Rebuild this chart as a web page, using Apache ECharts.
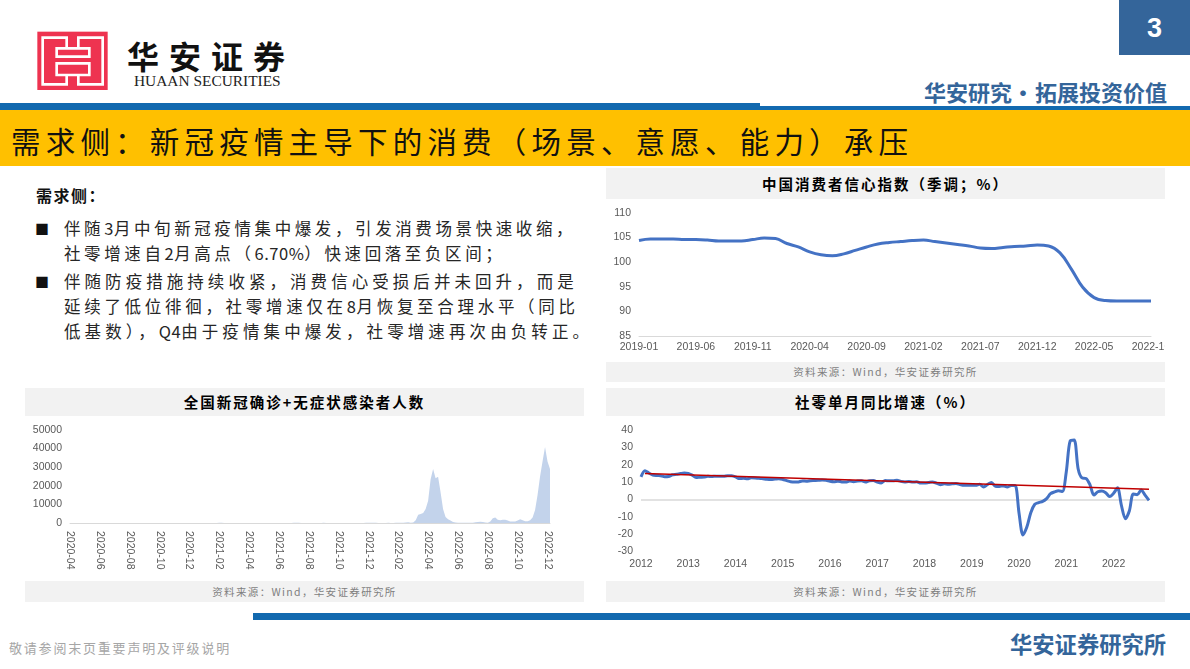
<!DOCTYPE html>
<html lang="zh"><head><meta charset="utf-8">
<script src="https://cdn.jsdelivr.net/npm/echarts@6/dist/echarts.min.js"></script>
<style>
html,body{margin:0;padding:0;background:#fff;width:1190px;height:669px;overflow:hidden;font-family:"Noto Sans CJK SC",sans-serif}
.a{position:absolute;white-space:nowrap}
.r{position:absolute}
.p{position:absolute;background:#F2F2F2;text-align:center}
.h{font-weight:700;color:#000;font-size:14.5px;letter-spacing:2px}
.s{color:#7F7F7F;font-size:10.5px;letter-spacing:1.35px}
.t{font-size:16.5px;letter-spacing:3.95px;color:#262626;line-height:24px;left:64px}
.l{letter-spacing:.5px}
</style></head><body>
<svg class="r" style="left:30px;top:25px" width="90" height="70" viewBox="0 0 270 210">
<rect x="22" y="20" width="211" height="175" fill="#EE3350"/>
<path d="M110 38H38V178H110V150H80V115H178V150H145V178H218V38H145V70H178V95H80V70H110ZM110 70H145M110 150H145" fill="none" stroke="#fff" stroke-width="8"/>
</svg>
<div class="a" style="left:127px;top:33px;font-size:32px;letter-spacing:10px;line-height:44px;font-weight:700;color:#111">华安证券</div>
<div class="a" style="left:134px;top:73px;font-family:'Liberation Serif';font-size:15.4px;line-height:16px;color:#222">HUAAN SECURITIES</div>
<div class="r" style="left:1119px;top:0;width:71px;height:55px;background:#34659A"></div>
<div class="a" style="left:1119px;width:71px;text-align:center;top:9px;font:700 27px/38px 'Liberation Sans';color:#fff">3</div>
<div class="a" style="left:924px;top:76px;font-size:22px;line-height:30px;font-weight:700;color:#34659A;word-spacing:-4px">华安研究• 拓展投资价值</div>
<div class="r" style="left:0;top:103px;width:760px;height:7px;background:#1269AF"></div>
<div class="r" style="left:760px;top:106px;width:430px;height:4px;background:#1269AF"></div>
<div class="r" style="left:0;top:110px;width:1190px;height:56px;background:#FFC000"></div>
<div class="a" style="left:11px;top:118px;font-size:29.5px;letter-spacing:5.2px;line-height:44px;color:#111">需求侧&#xFF1A;新冠疫情主导下的消费&#xFF08;场景、意愿、能力&#xFF09;承压</div>

<div class="a" style="left:36px;top:183px;font-size:16px;letter-spacing:1.5px;line-height:24px;font-weight:700;color:#111">需求侧&#xFF1A;</div>
<div class="a" style="left:35px;top:216px;font-size:14px;line-height:24px;color:#111">■</div>
<div class="a t" style="top:216px;letter-spacing:3.6px">伴随<span class="l">3</span>月中旬新冠疫情集中爆发&#xFF0C;引发消费场景快速收缩&#xFF0C;</div>
<div class="a t" style="top:241px;letter-spacing:3.6px">社零增速自<span class="l">2</span>月高点&#xFF08;<span class="l">6.70%</span>&#xFF09;快速回落至负区间&#xFF1B;</div>
<div class="a" style="left:35px;top:269px;font-size:14px;line-height:24px;color:#111">■</div>
<div class="a t" style="top:269px;letter-spacing:4.05px">伴随防疫措施持续收紧&#xFF0C;消费信心受损后并未回升&#xFF0C;而是</div>
<div class="a t" style="top:294px;letter-spacing:3.7px">延续了低位徘徊&#xFF0C;社零增速仅在<span class="l">8</span>月恢复至合理水平&#xFF08;同比</div>
<div class="a t" style="top:319px;letter-spacing:4.1px">低基数&#xFF09;&#xFF0C;<span class="l">Q4</span>由于疫情集中爆发&#xFF0C;社零增速再次由负转正。</div>

<div class="p h" style="left:606px;top:168px;width:559px;height:31px;line-height:31px">中国消费者信心指数&#xFF08;季调&#xFF1B;%&#xFF09;</div>
<div class="p s" style="left:606px;top:362px;width:559px;height:20px;line-height:20px">资料来源&#xFF1A;Wind&#xFF0C;华安证券研究所</div>
<div class="p h" style="left:25px;top:388px;width:559px;height:28px;line-height:28px">全国新冠确诊+无症状感染者人数</div>
<div class="p s" style="left:25px;top:581px;width:559px;height:21px;line-height:21px">资料来源&#xFF1A;Wind&#xFF0C;华安证券研究所</div>
<div class="p h" style="left:606px;top:388px;width:559px;height:28px;line-height:28px">社零单月同比增速&#xFF08;%&#xFF09;</div>
<div class="p s" style="left:606px;top:581px;width:559px;height:21px;line-height:21px">资料来源&#xFF1A;Wind&#xFF0C;华安证券研究所</div>

<div id="c1" class="r" style="left:605px;top:200px;width:560px;height:162px"></div>
<div id="c2" class="r" style="left:25px;top:416px;width:559px;height:165px"></div>
<div id="c3" class="r" style="left:605px;top:416px;width:560px;height:165px"></div>

<div class="r" style="left:253px;top:613px;width:937px;height:7px;background:#1269AF"></div>
<div class="a" style="left:9px;top:638px;font-size:13px;letter-spacing:1.8px;line-height:20px;color:#A6A6A6">敬请参阅末页重要声明及评级说明</div>
<div class="a" style="left:1010px;top:628px;font-size:22.3px;line-height:30px;font-weight:700;color:#34659A">华安证券研究所</div>

<script>
const confidenceMonths = ['2019-01','2019-02','2019-03','2019-04','2019-05','2019-06','2019-07','2019-08','2019-09','2019-10','2019-11','2019-12',
'2020-01','2020-02','2020-03','2020-04','2020-05','2020-06','2020-07','2020-08','2020-09','2020-10','2020-11','2020-12',
'2021-01','2021-02','2021-03','2021-04','2021-05','2021-06','2021-07','2021-08','2021-09','2021-10','2021-11','2021-12',
'2022-01','2022-02','2022-03','2022-04','2022-05','2022-06','2022-07','2022-08','2022-09','2022-10'];
const confidenceValues = [104.4,104.7,104.7,104.7,104.6,104.6,104.5,104.3,104.3,104.3,104.6,104.9,
104.8,103.8,103.1,102.1,101.5,101.3,101.7,102.4,103.1,103.7,104.0,104.2,
104.4,104.5,104.2,103.9,103.6,103.3,102.9,102.8,103.0,103.2,103.3,103.5,
103.3,101.9,98.6,94.9,92.8,92.2,92.1,92.1,92.1,92.1];

const covidTickMonths = ['2020-04','2020-06','2020-08','2020-10','2020-12','2021-02','2021-04','2021-06','2021-08','2021-10','2021-12','2022-02','2022-04','2022-06','2022-08','2022-10','2022-12'];
const covidBucketSuffix = ['','-b','-c','-d','-e','-f','-g','-h','-i','-j','-k','-l'];
const covidValues = [
60,50,40,30,30,20,20,20,10,10,10,10,
10,10,20,20,20,20,20,30,30,30,30,30,
20,20,20,20,20,30,30,30,30,30,20,20,
20,20,20,20,20,20,30,30,30,30,30,20,
20,20,30,30,30,40,40,30,30,30,20,30,
80,100,60,40,30,20,20,20,20,20,20,20,
20,20,20,20,30,40,40,30,30,20,20,20,
20,20,20,30,40,60,80,100,80,60,50,40,
30,30,30,30,40,60,80,60,40,30,30,30,
30,30,30,20,20,20,20,20,30,40,60,80,
100,120,100,80,60,40,40,50,80,60,60,80,
100,150,200,300,400,100,
300,1500,4500,4800,5400,7500,12000,23500,29000,24000,24800,16500,
7500,3200,2000,1300,600,300,200,150,120,100,120,150,
200,400,600,700,600,300,200,800,2500,3000,1800,1500,
1800,1700,1300,800,800,800,1300,2000,1500,1000,900,1500,
3000,7000,15000,25000,33000,40800,33000,29000];

const retailYears = ['2012','2013','2014','2015','2016','2017','2018','2019','2020','2021','2022'];
const retailMonths = ['01','02','03','04','05','06','07','08','09','10','11','12'];
const retailValues = [
13,16.5,15.2,14.1,13.8,13.7,13.1,13.2,14.2,14.5,14.9,15.2,
15,14,12.6,12.8,12.9,13.3,13.2,13.4,13.3,13.3,13.7,13.6,
13,12,12.2,11.9,12.5,12.4,12.2,11.9,11.6,11.5,11.7,11.9,
11.5,10.8,10.2,10,10.1,10.6,10.5,10.8,10.9,11,11.2,11.1,
10.5,10.2,10.5,10.1,10,10.6,10.2,10.6,10.7,10,10.8,10.9,
10,9.5,10.9,10.7,10.7,11,10.4,10.1,10.3,10,10.2,9.4,
9.4,9.7,10.1,9.4,8.5,9,8.8,9,9.2,8.6,8.1,8.2,
8.2,8.2,8.7,7.2,8.6,9.8,7.6,7.5,7.8,7.2,8,8,
-8,-20.5,-15.8,-7.5,-2.8,-1.8,-1.1,0.5,3.3,4.3,5,4.6,
16,33.8,34.2,17.7,12.4,12.1,8.5,2.5,4.4,4.9,3.9,1.7,
3.5,6.7,-3.5,-11.1,-6.7,3.1,2.7,5.4,2.5,-0.5];
const retailTrendPoints = [[1,14.9],[129,5.8]];

const labelColor = '#595959', axisGray = '#D9D9D9', fontName = '"Liberation Sans",sans-serif';
const yAxisBase = {type:'value',axisLine:{show:false},axisTick:{show:false},splitLine:{show:false},
  axisLabel:{color:labelColor,fontSize:10.5,fontFamily:fontName,margin:8,formatter:v => String(v)}};

const chart1 = echarts.init(document.getElementById('c1'));
chart1.setOption({animation:false,
  grid:{left:34,top:13,width:512,height:123,outerBoundsMode:'none'},
  xAxis:{type:'category',data:confidenceMonths,boundaryGap:false,
    axisLine:{lineStyle:{color:axisGray,width:1}},axisTick:{show:false},
    axisLabel:{interval:4,color:labelColor,fontSize:10.5,fontFamily:fontName,margin:6,hideOverlap:false}},
  yAxis:Object.assign({},yAxisBase,{min:85,max:110,interval:5}),
  series:[{type:'line',data:confidenceValues,smooth:0.4,showSymbol:false,
    lineStyle:{color:'#4472C4',width:3}}]});

const covidCategories = covidTickMonths.flatMap(m => covidBucketSuffix.map(s => m + s)).slice(0,194);
const chart2 = echarts.init(document.getElementById('c2'));
chart2.setOption({animation:false,
  grid:{left:45,top:14,width:480,height:93,outerBoundsMode:'none'},
  xAxis:{type:'category',data:covidCategories,boundaryGap:false,
    axisLine:{lineStyle:{color:axisGray,width:1}},axisTick:{show:false},
    axisLabel:{interval:11,rotate:-90,color:labelColor,fontSize:10.5,fontFamily:fontName,margin:8,hideOverlap:false}},
  yAxis:Object.assign({},yAxisBase,{min:0,max:50000,interval:10000}),
  series:[{type:'line',data:covidValues,showSymbol:false,smooth:false,
    lineStyle:{width:0},areaStyle:{color:'#C3D3EB',opacity:1}}]});

const retailCategories = retailYears.flatMap(y => retailMonths.map(m => y + '-' + m)).slice(0,130);
const chart3 = echarts.init(document.getElementById('c3'));
chart3.setOption({animation:false,
  grid:{left:36,top:14,width:508,height:121.5,outerBoundsMode:'none'},
  xAxis:{type:'category',data:retailCategories,boundaryGap:false,
    axisLine:{show:false,onZero:false},axisTick:{show:false},
    axisLabel:{interval:11,color:labelColor,fontSize:10.5,fontFamily:fontName,margin:7,hideOverlap:false,
      formatter:v => v.slice(0,4)}},
  yAxis:Object.assign({},yAxisBase,{min:-30,max:40,interval:10}),
  series:[
    {type:'line',data:retailValues,smooth:0.3,showSymbol:false,lineStyle:{color:'#4472C4',width:3},
     markLine:{silent:true,symbol:'none',label:{show:false},lineStyle:{color:axisGray,width:1.5,type:'solid'},data:[{yAxis:0}],z:1}},
    {type:'line',data:retailTrendPoints,showSymbol:false,lineStyle:{color:'#C00000',width:1.5},z:5}
  ]});
</script>
</body></html>
